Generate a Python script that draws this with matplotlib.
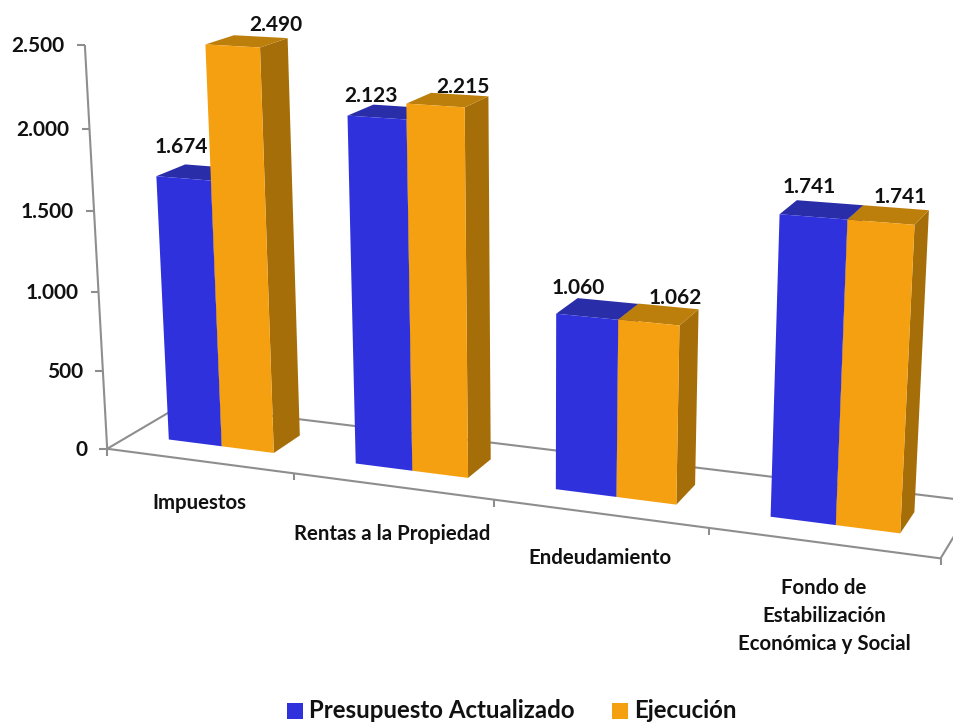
import numpy as np
import matplotlib
matplotlib.use("Agg")
import matplotlib.pyplot as plt

# ---- data ----
categories = ["Impuestos", "Rentas a la Propiedad", "Endeudamiento",
              "Fondo de\nEstabilización\nEconómica y Social"]
presupuesto = [1674, 2123, 1060, 1741]
ejecucion = [2490, 2215, 1062, 1741]
series_names = ["Presupuesto Actualizado", "Ejecución"]
y_ticks = [0, 500, 1000, 1500, 2000, 2500]
y_labels = ["0", "500", "1.000", "1.500", "2.000", "2.500"]
value_labels_a = ["1.674", "2.123", "1.060", "1.741"]
value_labels_b = ["2.490", "2.215", "1.062", "1.741"]

# ---- layout ----
W, H = 954, 724
CAL_W = 0.275
BLUE_W, ORANGE_W = 0.29, 0.28
D0, D1 = 0.31, 0.69
FONT = ["Lato", "DejaVu Sans"]
BLUE = ("#2F32DC", "#2A2DA8", "#23258C")
ORANGE = ("#F5A010", "#BC7F0C", "#A66E08")
AXIS = "#8E8E8E"
INK = "#111111"

# camera calibration: (category pos, depth, height) -> pixel of the 3-D frame
anchors = [
    (0, 0, 0, 108, 449), (4, 0, 0, 941, 558), (0, 1, 0, 181, 405), (4, 1, 0, 976, 502),
    (0, 0, 2500, 85, 44), (1, 0, 0, 294, 473), (2, 0, 0, 494, 500), (3, 0, 0, 710, 530),
    (3.5 + CAL_W, D0, 1741, 916, 224), (3.5 + CAL_W, D0, 0, 899, 533),
    (3.5 - CAL_W, D0, 1741, 779, 214), (3.5 - CAL_W, D0, 0, 771, 517),
    (0.5 + CAL_W, D0, 2490, 261, 47), (0.5 + CAL_W, D0, 0, 275, 453),
    (0.5 - CAL_W, D0, 1674, 157, 177), (0.5 - CAL_W, D0, 0, 170, 440),
    (1.5 + CAL_W, D1, 2215, 488, 98), (1.5 + CAL_W, D1, 0, 491, 458),
    (2.5 + CAL_W, D1, 1062, 697, 310), (2.5 + CAL_W, D1, 0, 694, 483),
]
A, b = [], []
for u, d, h, px, py in anchors:
    h = h / 1000
    A.append([u, d, h, 1, 0, 0, 0, 0, -px * u, -px * d, -px * h]); b.append(px)
    A.append([0, 0, 0, 0, u, d, h, 1, -py * u, -py * d, -py * h]); b.append(py)
p = np.linalg.lstsq(np.array(A, float), np.array(b, float), rcond=None)[0]
CAM = np.append(p, 1.0).reshape(3, 4)


def project(u, d, h):
    v = CAM @ np.array([u, d, h / 1000, 1.0])
    return v[0] / v[2], v[1] / v[2]


fig = plt.figure(figsize=(W / 100, H / 100), dpi=100)
ax = fig.add_axes([0, 0, 1, 1])
ax.set_xlim(0, W)
ax.set_ylim(H, 0)
ax.axis("off")


def seg(p0, p1, z=1):
    ax.plot([p0[0], p1[0]], [p0[1], p1[1]], color=AXIS, lw=1.5, zorder=z,
            solid_capstyle="butt")


# floor frame
seg(project(0, 0, 0), project(4, 0, 0))
seg(project(0, 1, 0), project(4, 1, 0))
seg(project(0, 0, 0), project(0, 1, 0))
seg(project(4, 0, 0), project(4, 1, 0))
seg(project(0, 0, 0), project(0, 0, 2500))
for i in range(5):
    x, y = project(i, 0, 0)
    seg((x, y), (x, y + 7))

# value axis
for t, lab in zip(y_ticks, y_labels):
    x, y = project(0, 0, t)
    seg((x - 8, y), (x, y))
    ax.text(x - 20, y + 1, lab, ha="right", va="center", fontsize=15, weight="bold",
            family=FONT, color=INK)


def bar(u0, u1, h, cols):
    z = 3
    pts = lambda q: [project(*c) for c in q]
    side = [(u1, D0, 0), (u1, D1, 0), (u1, D1, h), (u1, D0, h)]
    top = [(u0, D0, h), (u1, D0, h), (u1, D1, h), (u0, D1, h)]
    front = [(u0, D0, 0), (u1, D0, 0), (u1, D0, h), (u0, D0, h)]
    ax.fill(*zip(*pts(side)), color=cols[2], lw=0, zorder=z)
    ax.fill(*zip(*pts(top)), color=cols[1], lw=0, zorder=z)
    ax.fill(*zip(*pts(front)), color=cols[0], lw=0, zorder=z)


for i, (a, e) in enumerate(zip(presupuesto, ejecucion)):
    c = i + 0.5
    bar(c - BLUE_W, c, a, BLUE)
    bar(c, c + ORANGE_W, e, ORANGE)

# value labels
label_xy_a = [(181, 147), (371, 96), (578, 288), (809, 187)]
label_xy_b = [(276, 25), (463, 87), (675, 298), (900, 197)]
for labs, xy in ((value_labels_a, label_xy_a), (value_labels_b, label_xy_b)):
    for lab, (x, y) in zip(labs, xy):
        ax.text(x, y, lab, ha="center", va="center", fontsize=15, weight="bold",
                family=FONT, color=INK, zorder=6)

# category labels
cat_xy = [(199, 503), (392, 534), (600, 558), (824, 616)]
for lab, (x, y) in zip(categories, cat_xy):
    ax.text(x, y, lab, ha="center", va="center", fontsize=14.7, weight="bold",
            family=FONT, color=INK, linespacing=1.53)

# legend
for name, col, sq, tx in zip(series_names, (BLUE[0], ORANGE[0]), (287, 612), (309, 634)):
    ax.add_patch(plt.Rectangle((sq, 703), 16, 16, color=col, lw=0))
    ax.text(tx, 711, name, ha="left", va="center", fontsize=17.3, weight="bold",
            family=FONT, color=INK)

fig.savefig("out.png", dpi=100, facecolor="white")
